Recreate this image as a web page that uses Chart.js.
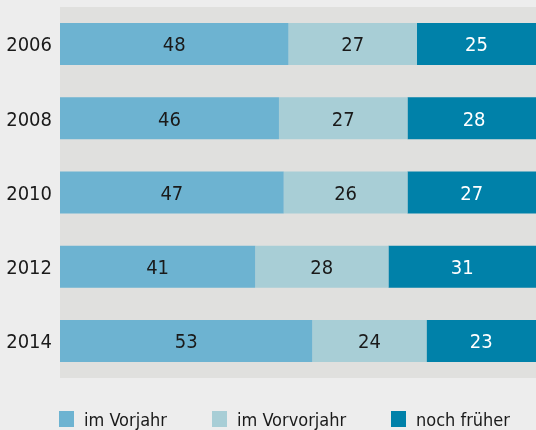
<!DOCTYPE html>
<html>
<head>
<meta charset="utf-8">
<script src="https://cdn.jsdelivr.net/npm/chart.js@4"></script>
<style>
  html, body { margin: 0; padding: 0; background: #ededed; }
  #wrap { position: relative; width: 536px; height: 430px; overflow: hidden; }
  canvas { display: block; }
  #legend { position: absolute; left: 0; top: 411px; width: 536px; height: 16px;
    font-family: "Liberation Sans Narrow", "DejaVu Sans Condensed", sans-serif; font-size: 18px; color: #1a1a1a; }
  .item { position: absolute; top: 0; height: 16px; line-height: 16px; display: flex; align-items: center; white-space: nowrap; }
  .box { width: 15px; height: 16px; margin-right: 10px; }
  .txt { position: relative; top: 1px; }
</style>
</head>
<body>
<div id="wrap">
  <canvas id="chart" width="536" height="430"></canvas>
  <div id="legend"></div>
</div>
<script>
const years = ["2006", "2008", "2010", "2012", "2014"];
const vorjahr = [48, 46, 47, 41, 53];
const vorvorjahr = [27, 27, 26, 28, 24];
const frueher = [25, 28, 27, 31, 23];

const seriesNames = ["im Vorjahr", "im Vorvorjahr", "noch früher"];
const seriesColors = ["#6db3d1", "#a8ced6", "#0081a9"];
const labelColors = ["#1a1a1a", "#1a1a1a", "#ffffff"];
const legendLeft = [59, 212, 391];

const FONT = "'Liberation Sans Narrow', 'DejaVu Sans Condensed', sans-serif";

const plotBg = {
    id: "plotBg",
    beforeDraw(chart) {
        const a = chart.chartArea;
        const c = chart.ctx;
        c.save();
        c.fillStyle = "#e0e0de";
        c.fillRect(a.left, a.top, a.right - a.left, a.bottom - a.top);
        c.restore();
    }
};

const valueLabels = {
    id: "valueLabels",
    afterDatasetsDraw(chart) {
        const c = chart.ctx;
        c.save();
        c.font = "20px " + FONT;
        c.textAlign = "center";
        c.textBaseline = "middle";
        chart.data.datasets.forEach((ds, i) => {
            chart.getDatasetMeta(i).data.forEach((bar, j) => {
                const p = bar.getCenterPoint();
                c.fillStyle = labelColors[i];
                c.fillText(ds.data[j], p.x, p.y + 2);
            });
        });
        c.restore();
    }
};

const ctx = document.getElementById("chart");

window.chart = new Chart(ctx, {
    type: "bar",
    data: {
        labels: years,
        datasets: [vorjahr, vorvorjahr, frueher].map((d, i) => ({
            label: seriesNames[i],
            data: d,
            backgroundColor: seriesColors[i],
            borderWidth: 0,
            categoryPercentage: 1,
            barPercentage: 0.566
        }))
    },
    options: {
        indexAxis: "y",
        responsive: false,
        animation: false,
        layout: { padding: { top: 7, bottom: 52, left: 0, right: 0 } },
        plugins: {
            legend: { display: false },
            tooltip: { enabled: false }
        },
        scales: {
            x: {
                stacked: true,
                min: 0,
                max: 100,
                display: false
            },
            y: {
                stacked: true,
                grid: { display: false, drawTicks: false },
                border: { display: false },
                ticks: {
                    color: "#1a1a1a",
                    padding: 8,
                    labelOffset: 2,
                    font: { family: FONT, size: 20 }
                },
                afterFit(scale) {
                    scale.width = 60;
                    scale.paddingTop = 0;
                    scale.paddingBottom = 0;
                }
            }
        }
    },
    plugins: [plotBg, valueLabels]
});

const legend = document.getElementById("legend");
seriesNames.forEach((name, i) => {
    const item = document.createElement("div");
    item.className = "item";
    item.style.left = legendLeft[i] + "px";
    const box = document.createElement("span");
    box.className = "box";
    box.style.background = seriesColors[i];
    const txt = document.createElement("span");
    txt.className = "txt";
    txt.textContent = name;
    item.appendChild(box);
    item.appendChild(txt);
    legend.appendChild(item);
});
</script>
</body>
</html>
